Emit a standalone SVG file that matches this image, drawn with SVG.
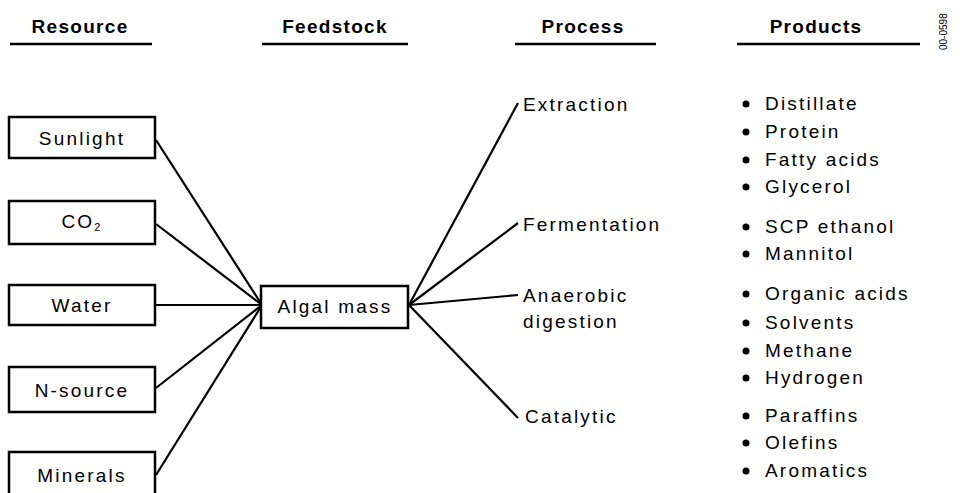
<svg xmlns="http://www.w3.org/2000/svg" width="961" height="493" viewBox="0 0 961 493">
<style>
text{font-family:"Liberation Sans",Arial,sans-serif;fill:#000}
.h{font-size:19px;font-weight:bold;letter-spacing:1.3px;text-anchor:middle}
.t{font-size:19px;letter-spacing:2.2px}
.c{text-anchor:middle}
.box{fill:#fff;stroke:#000;stroke-width:2.5}
.ul{stroke:#000;stroke-width:2.5}
.ln{stroke:#000;stroke-width:2.2;fill:none}
.dot{fill:#000}
</style>
<rect width="961" height="493" fill="#fff"/>
<g id="headers">
<text class="h" x="80" y="33">Resource</text>
<line class="ul" x1="10" y1="44" x2="152" y2="44"/>
<text class="h" x="335" y="33">Feedstock</text>
<line class="ul" x1="262" y1="44" x2="408" y2="44"/>
<text class="h" x="583" y="33">Process</text>
<line class="ul" x1="515" y1="44" x2="656" y2="44"/>
<text class="h" x="816" y="33">Products</text>
<line class="ul" x1="737" y1="44" x2="920" y2="44"/>
<text x="0" y="0" font-size="10" transform="translate(947,50) rotate(-90)">00-0598</text>
</g>
<g id="connectors">
<line class="ln" x1="156" y1="140" x2="262" y2="305"/>
<line class="ln" x1="156" y1="224" x2="262" y2="305"/>
<line class="ln" x1="156" y1="305" x2="262" y2="305"/>
<line class="ln" x1="156" y1="388" x2="262" y2="305"/>
<line class="ln" x1="156" y1="475" x2="262" y2="305"/>
<line class="ln" x1="409" y1="305" x2="518" y2="103"/>
<line class="ln" x1="409" y1="305" x2="518" y2="223"/>
<line class="ln" x1="409" y1="305" x2="518" y2="295"/>
<line class="ln" x1="409" y1="305" x2="518" y2="418"/>
</g>
<g id="sunlight">
<rect class="box" x="9" y="117" width="146" height="41"/>
<text class="t c" x="82" y="145">Sunlight</text>
</g>
<g id="co2">
<rect class="box" x="9" y="201" width="146" height="43"/>
<text class="t c" x="82" y="228">CO<tspan font-size="11" dy="3">2</tspan></text>
</g>
<g id="water">
<rect class="box" x="9" y="285" width="146" height="40"/>
<text class="t c" x="82" y="312">Water</text>
</g>
<g id="nsource">
<rect class="box" x="9" y="367" width="146" height="45"/>
<text class="t c" x="82" y="397">N-source</text>
</g>
<g id="minerals">
<rect class="box" x="9" y="452" width="146" height="60"/>
<text class="t c" x="82" y="482">Minerals</text>
</g>
<g id="algal">
<rect class="box" x="261" y="286" width="147" height="42"/>
<text class="t c" x="335" y="313">Algal mass</text>
</g>
<g id="processes">
<text class="t" x="523" y="111">Extraction</text>
<text class="t" x="523" y="231">Fermentation</text>
<text class="t" x="523" y="302">Anaerobic</text>
<text class="t" x="523" y="328">digestion</text>
<text class="t" x="525" y="423">Catalytic</text>
</g>
<g id="products">
<circle class="dot" cx="746" cy="104" r="3.5"/><text class="t" x="765" y="110">Distillate</text>
<circle class="dot" cx="746" cy="132" r="3.5"/><text class="t" x="765" y="138">Protein</text>
<circle class="dot" cx="746" cy="160" r="3.5"/><text class="t" x="765" y="166">Fatty acids</text>
<circle class="dot" cx="746" cy="187" r="3.5"/><text class="t" x="765" y="193">Glycerol</text>
<circle class="dot" cx="746" cy="227" r="3.5"/><text class="t" x="765" y="233">SCP ethanol</text>
<circle class="dot" cx="746" cy="254" r="3.5"/><text class="t" x="765" y="260">Mannitol</text>
<circle class="dot" cx="746" cy="294" r="3.5"/><text class="t" x="765" y="300">Organic acids</text>
<circle class="dot" cx="746" cy="323" r="3.5"/><text class="t" x="765" y="329">Solvents</text>
<circle class="dot" cx="746" cy="351" r="3.5"/><text class="t" x="765" y="357">Methane</text>
<circle class="dot" cx="746" cy="378" r="3.5"/><text class="t" x="765" y="384">Hydrogen</text>
<circle class="dot" cx="746" cy="416" r="3.5"/><text class="t" x="765" y="422">Paraffins</text>
<circle class="dot" cx="746" cy="443" r="3.5"/><text class="t" x="765" y="449">Olefins</text>
<circle class="dot" cx="746" cy="471" r="3.5"/><text class="t" x="765" y="477">Aromatics</text>
</g>
</svg>
